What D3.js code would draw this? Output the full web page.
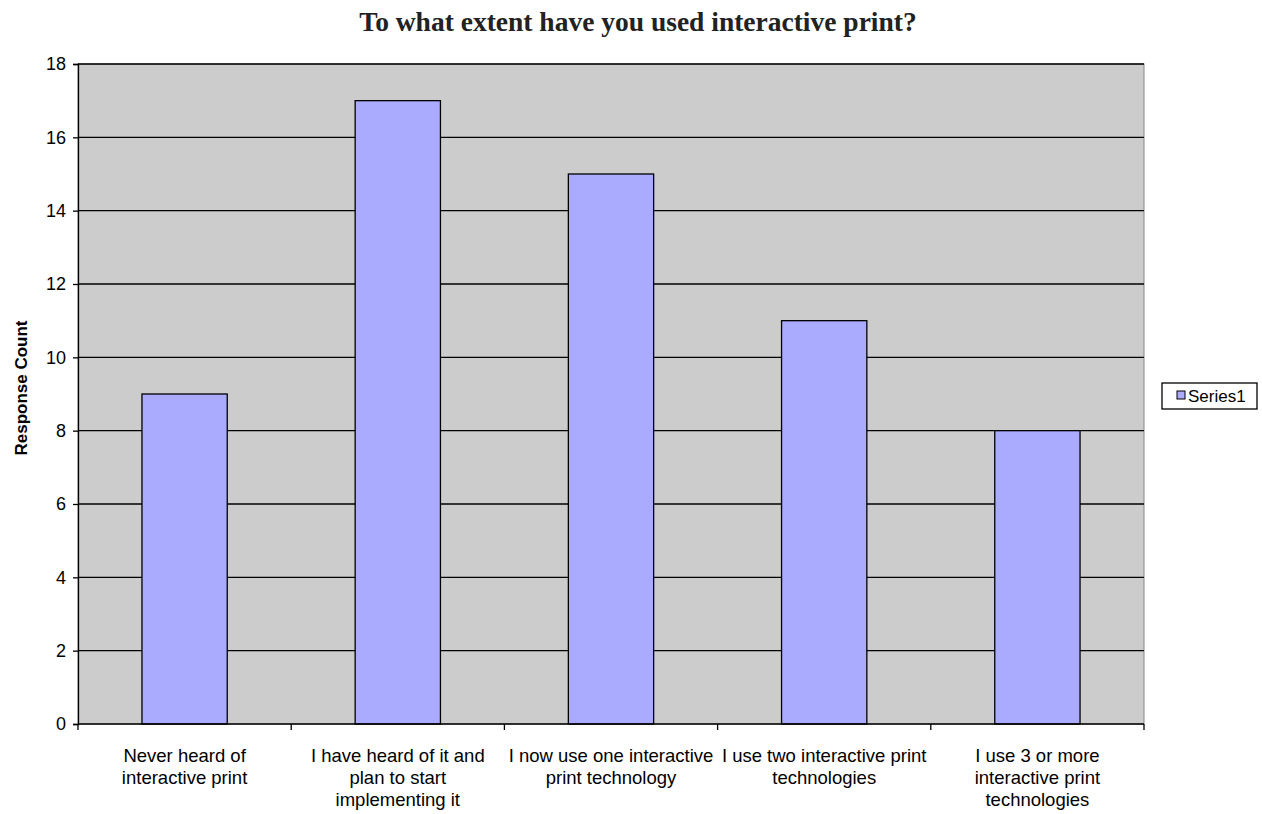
<!DOCTYPE html>
<html><head><meta charset="utf-8">
<script src="https://cdn.jsdelivr.net/npm/d3@7"></script>
<style>body{margin:0;background:#fff}svg{display:block}</style>
</head><body>
<svg id="c" width="1262" height="814"></svg>
<script>
const categories = [
  ["Never heard of", "interactive print"],
  ["I have heard of it and", "plan to start", "implementing it"],
  ["I now use one interactive", "print technology"],
  ["I use two interactive print", "technologies"],
  ["I use 3 or more", "interactive print", "technologies"]
];
const values = [9, 17, 15, 11, 8];
const yTicks = [0, 2, 4, 6, 8, 10, 12, 14, 16, 18];
const seriesName = "Series1";
const titleText = "To what extent have you used interactive print?";
const yTitle = "Response Count";

const svg = d3.select("#c");
const L = 78, R = 1144, T = 64, B = 724;
const x = d3.scaleBand().domain(d3.range(values.length)).range([L, R]).paddingInner(0.6).paddingOuter(0.3);
const y = d3.scaleLinear().domain([0, 18]).range([B, T]);
const sans = "Liberation Sans, Arial, sans-serif";

svg.append("rect").attr("x", L).attr("y", T).attr("width", R - L).attr("height", B - T)
  .attr("fill", "#cccccc").attr("stroke", "#888").attr("stroke-width", 1);

svg.append("g").selectAll("line").data(yTicks.filter(d => d > 0)).join("line")
  .attr("x1", L).attr("x2", R).attr("y1", d => y(d)).attr("y2", d => y(d))
  .attr("stroke", "#000").attr("stroke-width", 1.3);

svg.append("g").selectAll("rect").data(values).join("rect")
  .attr("x", (d, i) => x(i)).attr("width", x.bandwidth())
  .attr("y", d => y(d)).attr("height", d => B - y(d))
  .attr("fill", "#aaaaff").attr("stroke", "#000").attr("stroke-width", 1.3);

// y axis
const yAxis = svg.append("g").attr("transform", `translate(${L},0)`)
  .call(d3.axisLeft(y).tickValues(yTicks).tickSize(5).tickPadding(7));
yAxis.select(".domain").attr("stroke", "#000").attr("stroke-width", 1.3);
yAxis.selectAll("line").attr("stroke", "#000").attr("stroke-width", 1.3);
yAxis.selectAll("text").attr("font-family", sans).attr("font-size", 18).attr("fill", "#000");

// x axis line with boundary ticks
const step = x.step();
const bounds = d3.range(values.length + 1).map(i => L + i * step);
svg.append("line").attr("x1", L).attr("x2", R).attr("y1", B).attr("y2", B).attr("stroke", "#000").attr("stroke-width", 1.3);
svg.append("g").selectAll("line").data(bounds).join("line")
  .attr("x1", d => d).attr("x2", d => d).attr("y1", B).attr("y2", B + 6)
  .attr("stroke", "#000").attr("stroke-width", 1.3);

// category labels
const cg = svg.append("g").attr("font-family", sans).attr("font-size", 18.5).attr("fill", "#000").attr("text-anchor", "middle");
categories.forEach((lines, i) => {
  const cx = x(i) + x.bandwidth() / 2;
  lines.forEach((t, j) => {
    cg.append("text").attr("x", cx).attr("y", 762 + j * 22).text(t);
  });
});

// title
svg.append("text").attr("x", 638).attr("y", 31).attr("text-anchor", "middle")
  .attr("font-family", "Liberation Serif, serif").attr("font-weight", "bold").attr("font-size", 27.5)
  .attr("fill", "#222").text(titleText);

// y title
svg.append("text").attr("transform", `translate(27,388) rotate(-90)`)
  .attr("text-anchor", "middle").attr("font-family", sans)
  .attr("font-weight", "bold").attr("font-size", 17).text(yTitle);

// legend
const lg = svg.append("g");
lg.append("rect").attr("x", 1162).attr("y", 383).attr("width", 95).attr("height", 26).attr("fill", "#fff").attr("stroke", "#000").attr("stroke-width", 1.3);
lg.append("rect").attr("x", 1177).attr("y", 391).attr("width", 8).attr("height", 8).attr("fill", "#aaaaff").attr("stroke", "#000").attr("stroke-width", 1);
lg.append("text").attr("x", 1188).attr("y", 402).attr("font-family", sans).attr("font-size", 17).text(seriesName);
</script>
</body></html>
